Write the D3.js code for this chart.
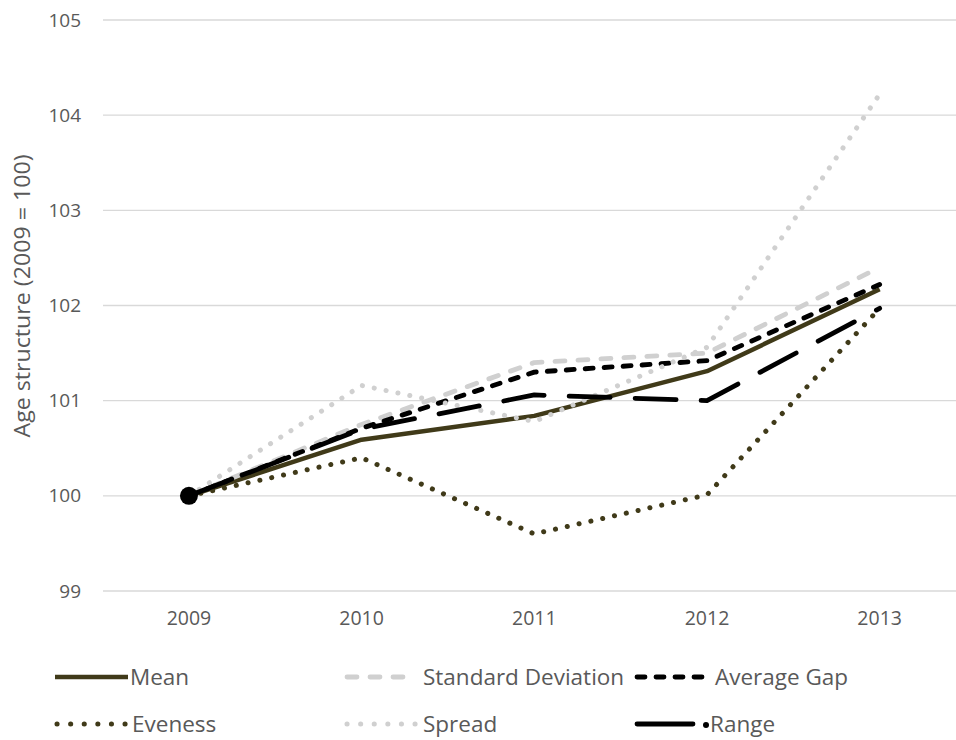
<!DOCTYPE html>
<html><head><meta charset="utf-8">
<script src="https://cdn.jsdelivr.net/npm/d3@7"></script>
<style>body{margin:0;background:#fff}svg{display:block}text{font-family:"Open Sans",sans-serif;fill:#595959}</style>
</head><body><svg id="c" width="956" height="740"></svg>
<script>
const years = ["2009","2010","2011","2012","2013"];
const yTicks = [99,100,101,102,103,104,105];
const seriesNames = ["Mean","Standard Deviation","Average Gap","Eveness","Spread","Range"];
const mean     = [100, 100.59, 100.84, 101.31, 102.17];
const stdDev   = [100, 100.75, 101.40, 101.50, 102.40];
const avgGap   = [100, 100.71, 101.30, 101.42, 102.22];
const eveness  = [100, 100.40, 99.60, 100.01, 101.97];
const spread   = [100, 101.16, 100.78, 101.56, 104.22];
const range    = [100, 100.70, 101.06, 101.00, 101.97];

const styles = [
  {color:"#403a19", dash:null, w:4.5},
  {color:"#d0d0d0", dash:"10 13", w:4.8},
  {color:"#000000", dash:"8 11", w:4.8},
  {color:"#403a19", dash:"0.1 12", w:5},
  {color:"#d0d0d0", dash:"0.1 12", w:5},
  {color:"#000000", dash:"41 25", w:4.8}
];
const data = [mean,stdDev,avgGap,eveness,spread,range];

const svg = d3.select("#c");
const x = d3.scaleBand().domain(years).range([102.6, 966]);
const y = d3.scaleLinear().domain([99,105]).range([591, 20]);

// gridlines
svg.append("g").selectAll("line").data(yTicks).join("line")
  .attr("x1",103).attr("x2",956)
  .attr("y1",d=>y(d)).attr("y2",d=>y(d))
  .attr("stroke","#d9d9d9").attr("stroke-width",1.3);

// y axis labels
const ya = svg.append("g").attr("transform","translate(81,0)")
  .call(d3.axisLeft(y).tickValues(yTicks).tickFormat(d3.format("d")).tickSize(0).tickPadding(0));
ya.select(".domain").remove();
ya.attr("font-size",null).attr("font-family",null);
ya.selectAll("text").style("font-size","19px").style("fill","#595959").style("font-family","'Open Sans'");

// x axis labels
const xa = svg.append("g").attr("transform","translate(0,611)")
  .call(d3.axisBottom(x).tickSize(0).tickPadding(0));
xa.select(".domain").remove();
xa.attr("font-size",null).attr("font-family",null);
xa.selectAll("text").style("font-size","19.5px").style("fill","#595959").style("font-family","'Open Sans'").attr("dy","0.71em");

// y title
svg.append("text").attr("transform","translate(30,296) rotate(-90)")
  .attr("text-anchor","middle").style("font-size","22px")
  .attr("textLength",283).attr("lengthAdjust","spacingAndGlyphs")
  .text("Age structure (2009 = 100)");

const line = d3.line().x((d,i)=>x(years[i])+x.bandwidth()/2).y(d=>y(d));
data.forEach((arr,k)=>{
  const s = styles[k];
  svg.append("path").datum(arr).attr("d",line).attr("fill","none")
    .attr("stroke",s.color).attr("stroke-width",s.w)
    .attr("stroke-dasharray",s.dash).attr("stroke-linecap", s.dash? "round":"butt")
    .attr("stroke-linejoin","round");
});
// marker on Range first point
svg.append("circle").attr("cx",x(years[0])+x.bandwidth()/2).attr("cy",y(range[0])).attr("r",9).attr("fill","#000");

// legend
const leg = [
  {i:0,x:55,y:677,tx:130},{i:1,x:345,y:677,tx:423},{i:2,x:635,y:677,tx:715},
  {i:3,x:55,y:724,tx:132},{i:4,x:345,y:724,tx:423},{i:5,x:635,y:724,tx:710}
];
leg.forEach(L=>{
  const s = styles[L.i];
  let x2 = L.x+73;
  svg.append("line").attr("x1",L.x+(s.dash?2:0)).attr("x2",L.i===5? L.x+58 : x2-(s.dash?2:0)).attr("y1",L.y).attr("y2",L.y)
    .attr("stroke",s.color).attr("stroke-width",s.w)
    .attr("stroke-dasharray",L.i===5?null:(L.i===3||L.i===4?"0.1 13.5":s.dash)).attr("stroke-linecap", s.dash? "round":"butt");
  if(L.i===5){
    svg.append("circle").attr("cx",L.x+71).attr("cy",L.y+1).attr("r",3).attr("fill","#000");
  }
  svg.append("text").attr("x",L.tx).attr("y",L.y).attr("dy","0.35em")
    .style("font-size","22.5px").text(seriesNames[L.i]);
});
</script></body></html>
